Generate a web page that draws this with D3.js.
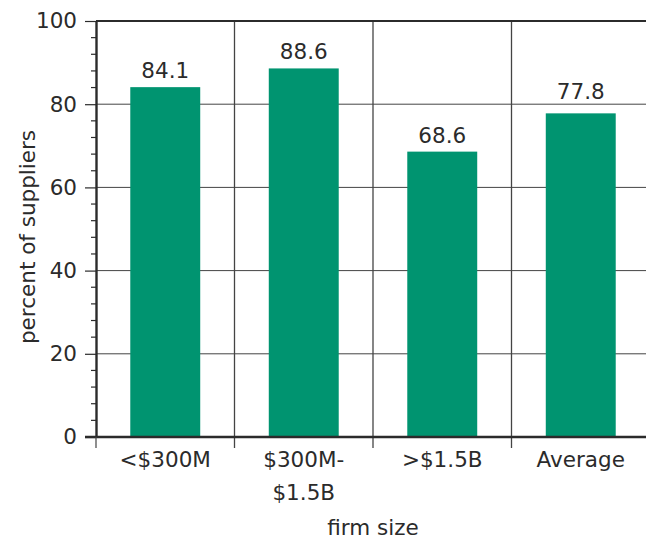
<!DOCTYPE html>
<html><head><meta charset="utf-8">
<script src="https://cdn.jsdelivr.net/npm/d3@7"></script>
<style>body{margin:0;background:#fff}svg{display:block}text{font-family:"DejaVu Sans",sans-serif;fill:#2b2b2b}</style>
</head><body><svg id="c" width="646" height="540"></svg>
<script>
const categories = [["<$300M"], ["$300M-", "$1.5B"], [">$1.5B"], ["Average"]];
const values = [84.1, 88.6, 68.6, 77.8];
const yTicks = [0, 20, 40, 60, 80, 100];
const labels = values.map(v => v.toFixed(1));

const svg = d3.select("#c");
const L = 96, R = 650, T = 21, B = 437;
const keys = categories.map((c, i) => i);
const x = d3.scaleBand().domain(keys).range([L, R]).paddingInner(0).paddingOuter(0);
const y = d3.scaleLinear().domain([0, 100]).range([B, T]);
const barW = x.bandwidth() * 0.505;
const fs = 21.5;
const FF = '"DejaVu Sans",sans-serif';

// horizontal grid
svg.append("g").selectAll("line").data(yTicks.filter(t => t > 0 && t < 100)).join("line")
  .attr("x1", L).attr("x2", R).attr("y1", d => y(d)).attr("y2", d => y(d))
  .attr("stroke", "#444").attr("stroke-width", 1);
// vertical separators
svg.append("g").selectAll("line").data(keys.slice(1)).join("line")
  .attr("x1", d => x(d)).attr("x2", d => x(d)).attr("y1", T).attr("y2", B + 11)
  .attr("stroke", "#444").attr("stroke-width", 1.3);
// top line
svg.append("line").attr("x1", L).attr("x2", R).attr("y1", y(100)).attr("y2", y(100))
  .attr("stroke", "#2b2b2b").attr("stroke-width", 2.2);

// bars
svg.append("g").selectAll("rect").data(values).join("rect")
  .attr("x", (d, i) => x(i) + (x.bandwidth() - barW) / 2)
  .attr("width", barW)
  .attr("y", d => y(d)).attr("height", d => y(0) - y(d))
  .attr("fill", "#009470");

// value labels (lifted above a gridline if they would collide with it)
function labelY(v) {
  let base = y(v) - 9;
  const top = base - 16;
  yTicks.forEach(t => {
    const gy = y(t);
    if (t > 0 && t < 100 && gy > top - 2 && gy < base + 2) base = gy - 5;
  });
  return base;
}
svg.append("g").selectAll("text").data(values).join("text")
  .attr("x", (d, i) => x(i) + x.bandwidth() / 2).attr("y", d => labelY(d))
  .attr("text-anchor", "middle").attr("font-size", fs).text((d, i) => labels[i]);

// y axis
const yAxis = d3.axisLeft(y).tickValues(yTicks).tickSize(11).tickSizeOuter(0).tickPadding(8);
const ga = svg.append("g").attr("transform", `translate(${L},0)`).call(yAxis);
ga.select(".domain").attr("stroke", "#2b2b2b").attr("stroke-width", 2.4);
ga.selectAll(".tick line").attr("stroke", "#2b2b2b").attr("stroke-width", 1.2);
ga.selectAll(".tick text").attr("font-size", fs).attr("fill", "#2b2b2b").attr("font-family", FF);
// minor ticks
const minor = d3.range(0, 101, 4).filter(v => v % 20 !== 0);
svg.append("g").selectAll("line").data(minor).join("line")
  .attr("x1", L - 5).attr("x2", L).attr("y1", d => y(d)).attr("y2", d => y(d))
  .attr("stroke", "#2b2b2b").attr("stroke-width", 1.2);

// bottom axis line
svg.append("line").attr("x1", L - 11).attr("x2", R).attr("y1", B).attr("y2", B)
  .attr("stroke", "#2b2b2b").attr("stroke-width", 2.4);
svg.append("line").attr("x1", L).attr("x2", L).attr("y1", B).attr("y2", B + 11)
  .attr("stroke", "#444").attr("stroke-width", 1.2);

// category labels
const cg = svg.append("g").selectAll("text").data(categories).join("text")
  .attr("text-anchor", "middle").attr("font-size", fs);
cg.each(function (lines, i) {
  const t = d3.select(this);
  lines.forEach((ln, j) => {
    t.append("tspan").attr("x", x(i) + x.bandwidth() / 2).attr("y", 467 + j * 33).text(ln);
  });
});

// axis titles
svg.append("text").attr("x", 373).attr("y", 535).attr("text-anchor", "middle")
  .attr("font-size", fs).text("firm size");
svg.append("text").attr("transform", `translate(35,237) rotate(-90)`)
  .attr("text-anchor", "middle").attr("font-size", fs).text("percent of suppliers");
</script></body></html>
